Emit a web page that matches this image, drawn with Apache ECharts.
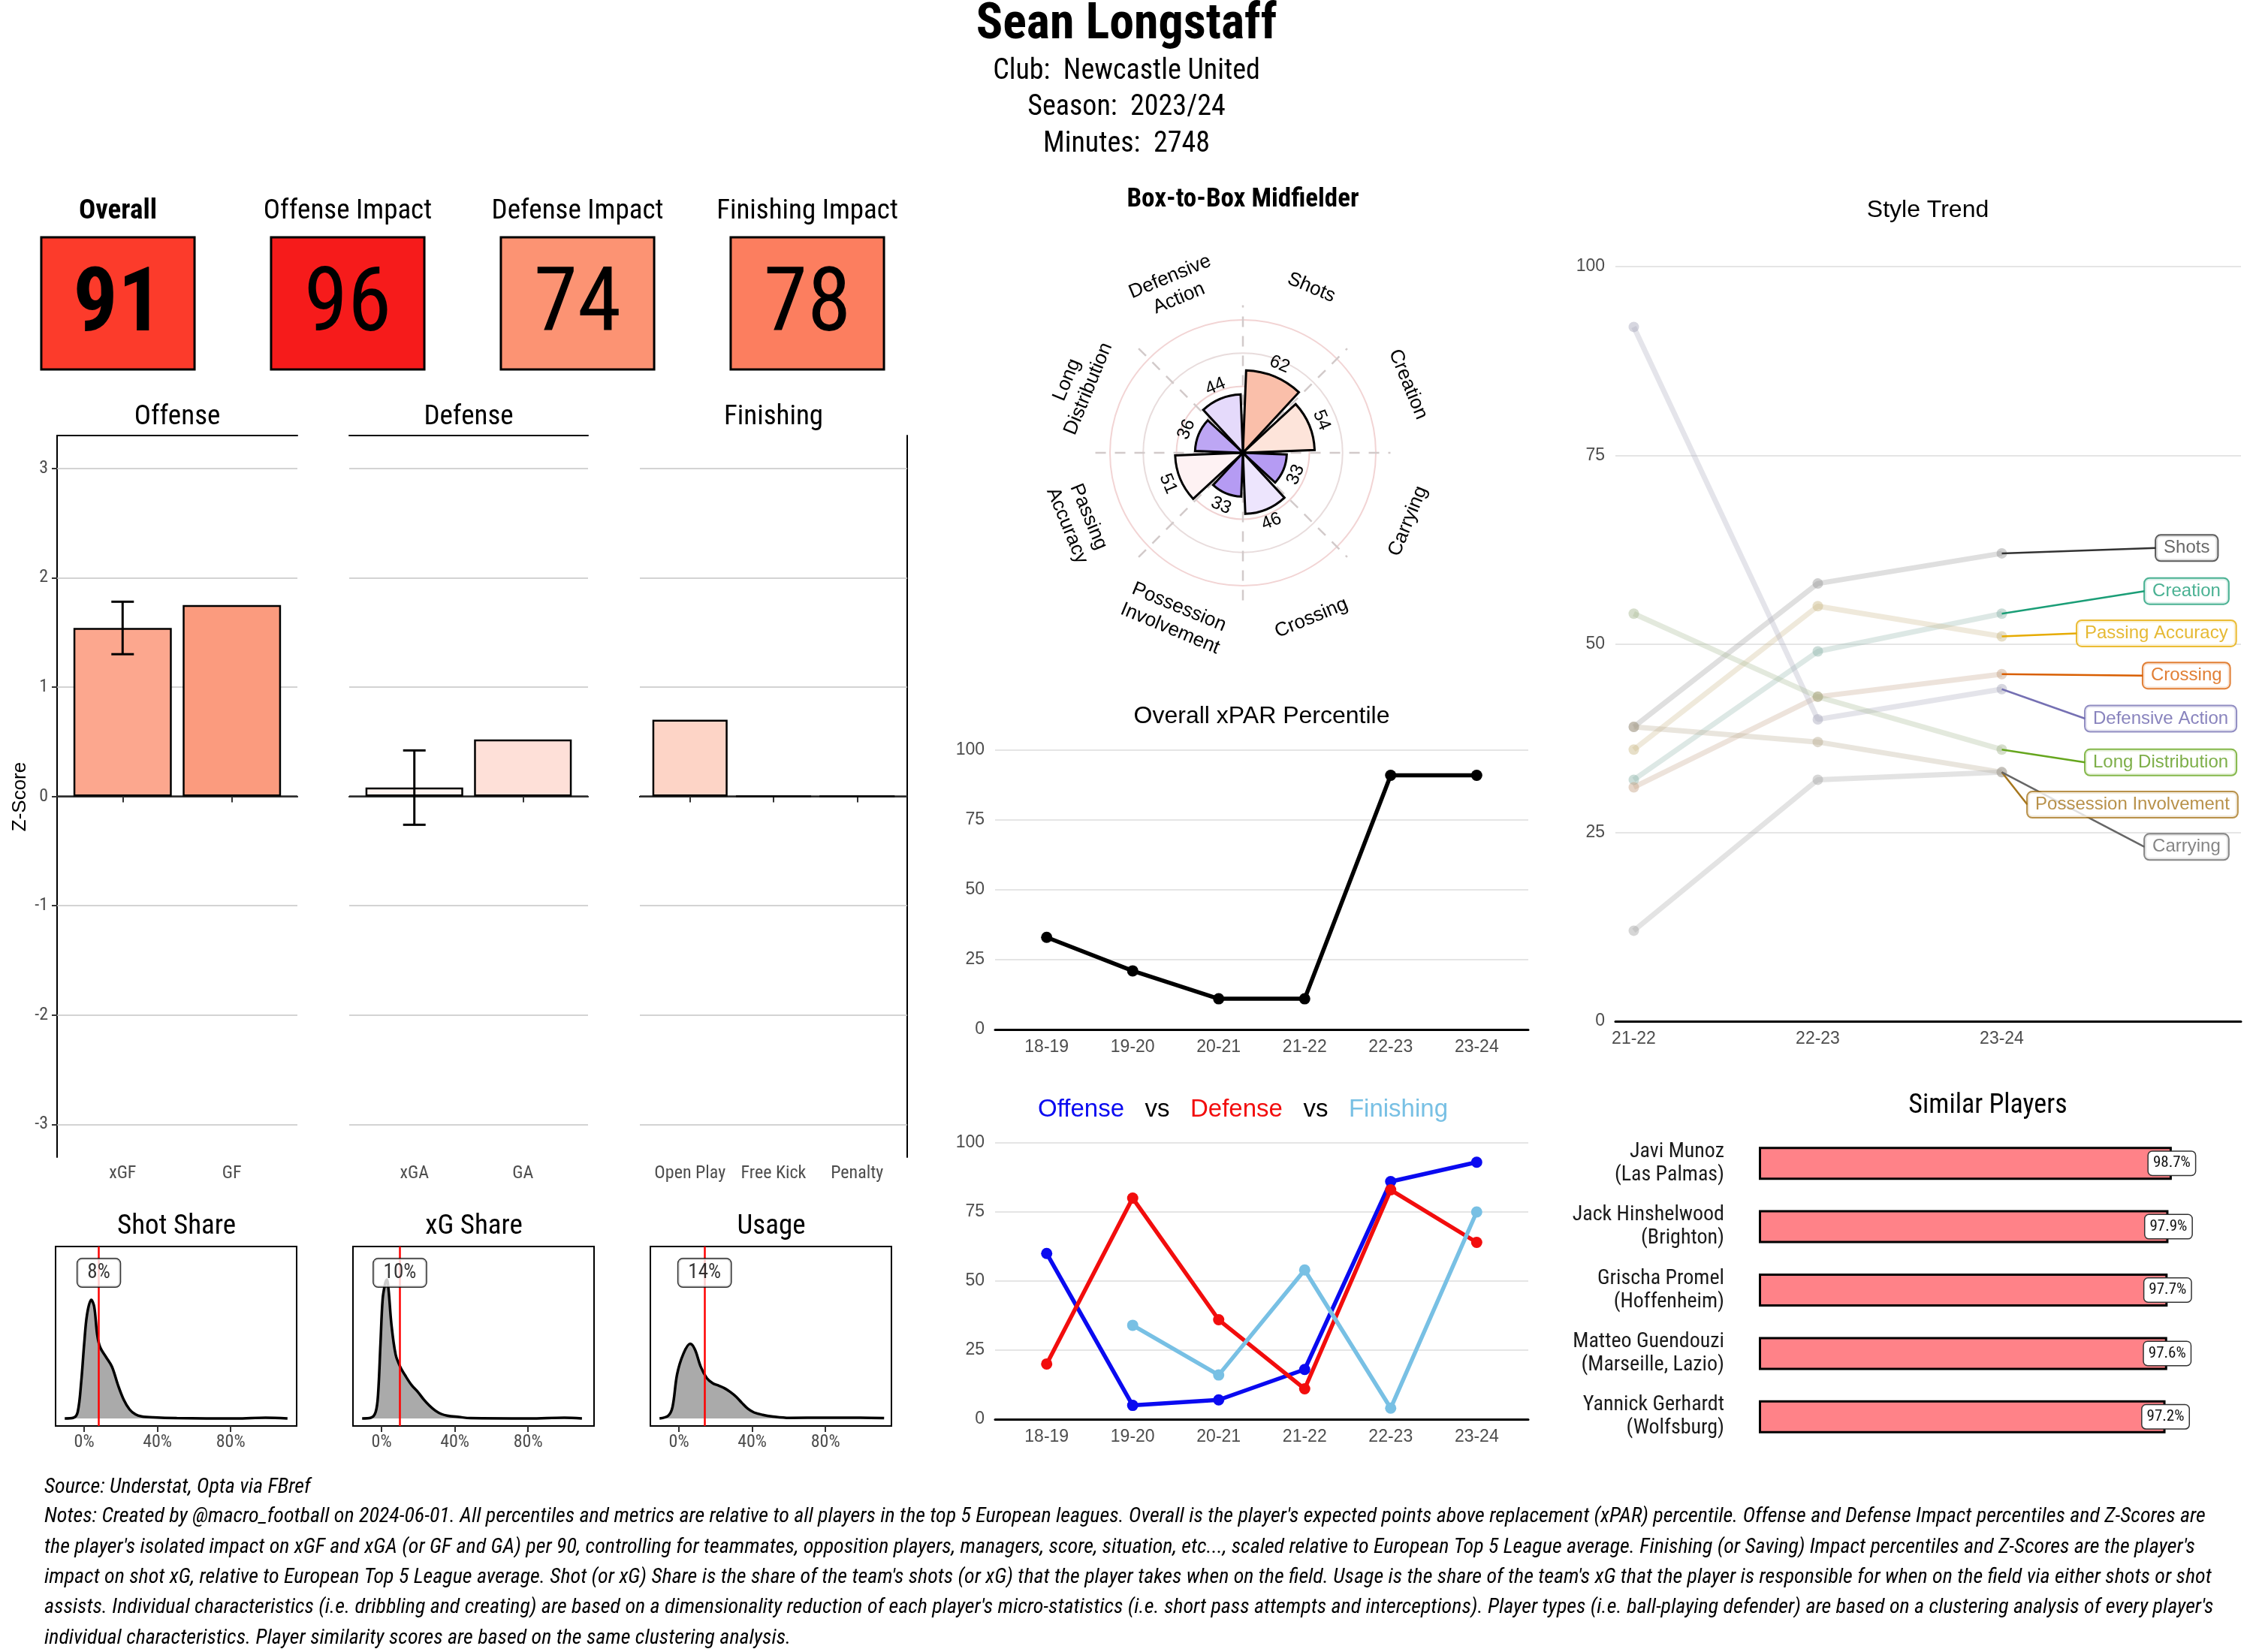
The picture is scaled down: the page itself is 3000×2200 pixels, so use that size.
<!DOCTYPE html>
<html><head><meta charset="utf-8">
<script src="https://cdn.jsdelivr.net/npm/echarts@6/dist/echarts.min.js"></script>
<style>html,body{margin:0;padding:0;background:#fff}#c{width:3000px;height:2200px}</style>
</head><body><div id="c"></div>
<script>
// ---------------- DATA ----------------
const playerName = 'Sean Longstaff';
const infoLines = ['Club:  Newcastle United', 'Season:  2023/24', 'Minutes:  2748'];

const tileNames = ['Overall', 'Offense Impact', 'Defense Impact', 'Finishing Impact'];
const tileValues = [91, 96, 74, 78];

const zTicks = [-3, -2, -1, 0, 1, 2, 3];
const offenseCats = ['xGF', 'GF'];
const offenseVals = [1.54, 1.75];
const defenseCats = ['xGA', 'GA'];
const defenseVals = [0.08, 0.52];
const finishingCats = ['Open Play', 'Free Kick', 'Penalty'];
const finishingVals = [0.70, 0, 0];
const xgfErr = [1.30, 1.78];
const xgaErr = [-0.26, 0.42];

const shareNames = ['Shot Share', 'xG Share', 'Usage'];
const shareValues = [8, 10, 14];
const shareTicks = [0, 40, 80];
const shotShareX = [-10.6, -5.8, -3.5, -1.6, 0, 1.6, 3.9, 5.5, 7.1, 8.7, 11.9, 15.2, 18.4, 21.6, 24.8, 28, 31.3, 37.7, 50.6, 83, 99, 111];
const shotShareD = [0, 0.05, 0.44, 2.44, 4.94, 6.94, 7.9, 7.44, 5.6, 4.75, 4.1, 3.44, 2.25, 1.25, 0.6, 0.27, 0.14, 0.07, 0.02, 0, 0.05, 0];
const xgShareX = [-10.6, -5.8, -3.2, -1.9, -0.6, 0.6, 1.9, 2.9, 3.8, 5.4, 7.7, 10.2, 13.4, 16.6, 19.8, 23, 26.2, 29.4, 32.6, 35.8, 42.2, 48.6, 80.6, 99.8, 109.4];
const xgShareD = [0, 0.05, 0.44, 1.6, 4.94, 7.94, 8.94, 9.25, 8.6, 6.25, 4.25, 3.44, 2.77, 2.19, 1.77, 1.27, 0.85, 0.52, 0.3, 0.19, 0.1, 0.02, 0, 0.05, 0];
const usageX = [-10.6, -5.8, -3.5, -1, 2.3, 6.1, 8.7, 11.9, 15.2, 18.4, 21.6, 24.8, 28, 31.3, 34.5, 37.7, 41, 45.8, 50.6, 60.3, 79.7, 99, 112];
const usageD = [0, 0.19, 0.77, 2.94, 4.27, 4.97, 4.6, 3.44, 2.69, 2.35, 2.19, 2.02, 1.77, 1.44, 1.02, 0.64, 0.4, 0.24, 0.14, 0.04, 0.05, 0.05, 0.02];

const playerType = 'Box-to-Box Midfielder';
const styleCats = ['Shots', 'Creation', 'Carrying', 'Crossing', 'Possession Involvement', 'Passing Accuracy', 'Long Distribution', 'Defensive Action'];
const styleValues = [62, 54, 33, 46, 33, 51, 36, 44];

const trendSeasons = ['21-22', '22-23', '23-24'];
const trendShots = [39, 58, 62];
const trendCreation = [32, 49, 54];
const trendPassing = [36, 55, 51];
const trendCrossing = [31, 43, 46];
const trendDefensive = [92, 40, 44];
const trendLongDist = [54, 43, 36];
const trendPossession = [39, 37, 33];
const trendCarrying = [12, 32, 33];

const seasons = ['18-19', '19-20', '20-21', '21-22', '22-23', '23-24'];
const xparVals = [33, 21, 11, 11, 91, 91];
const offenseTrend = [60, 5, 7, 18, 86, 93];
const defenseTrend = [20, 80, 36, 11, 83, 64];
const finishingTrend = [null, 34, 16, 54, 4, 75];

const simNames = ['Javi Munoz\n(Las Palmas)', 'Jack Hinshelwood\n(Brighton)', 'Grischa Promel\n(Hoffenheim)', 'Matteo Guendouzi\n(Marseille, Lazio)', 'Yannick Gerhardt\n(Wolfsburg)'];
const simVals = [98.7, 97.9, 97.7, 97.6, 97.2];

const sourceText = 'Source: Understat, Opta via FBref';
const notesLines = [
  "Notes: Created by @macro_football on 2024-06-01. All percentiles and metrics are relative to all players in the top 5 European leagues. Overall is the player's expected points above replacement (xPAR) percentile. Offense and Defense Impact percentiles and Z-Scores are",
  "the player's isolated impact on xGF and xGA (or GF and GA) per 90, controlling for teammates, opposition players, managers, score, situation, etc..., scaled relative to European Top 5 League average. Finishing (or Saving) Impact percentiles and Z-Scores are the player's",
  "impact on shot xG, relative to European Top 5 League average. Shot (or xG) Share is the share of the team's shots (or xG) that the player takes when on the field. Usage is the share of the team's xG that the player is responsible for when on the field via either shots or shot",
  "assists. Individual characteristics (i.e. dribbling and creating) are based on a dimensionality reduction of each player's micro-statistics (i.e. short pass attempts and interceptions). Player types (i.e. ball-playing defender) are based on a clustering analysis of every player's",
  "individual characteristics. Player similarity scores are based on the same clustering analysis."
];

// ---------------- STYLE ----------------
const COND = "'Liberation Sans Narrow','Roboto Condensed','DejaVu Sans Condensed',sans-serif";
const ARIAL = "'Liberation Sans',Arial,sans-serif";
const tileColors = ['#FC3B2B', '#F61B1B', '#FC9373', '#FC7E5F'];
const offenseColors = ['#FCA78E', '#FB9B7E'];
const defenseColors = ['#FFF4F0', '#FEE0D8'];
const finishingColors = ['#FDD4C6', '#FDD4C6', '#FDD4C6'];
const polarColors = ['#FABFAA', '#FDE4DA', '#B59BF3', '#EDE5FD', '#B59BF3', '#FEF2F3', '#BDA6F4', '#E5DAFB'];
const polarLabels = ['Shots', 'Creation', 'Carrying', 'Crossing', 'Possession\nInvolvement', 'Passing\nAccuracy', 'Long\nDistribution', 'Defensive\nAction'];
const trendNames = ['Shots', 'Creation', 'Passing Accuracy', 'Crossing', 'Defensive Action', 'Long Distribution', 'Possession Involvement', 'Carrying'];
const trendSeriesData = [trendShots, trendCreation, trendPassing, trendCrossing, trendDefensive, trendLongDist, trendPossession, trendCarrying];
const trendColors = ['#333333', '#1B9E77', '#E6AB02', '#D95F02', '#7570B3', '#66A61E', '#A6761D', '#666666'];
const trendTextColors = ['#444444', '#1B9E77', '#E0A800', '#D95F02', '#6A64AD', '#5C9A1A', '#A6761D', '#666666'];
// label anchor (left-middle of each repelled label box) in axis units
const trendLabelAnchor = [[2.837, 62.7], [2.776, 57.0], [2.408, 51.4], [2.767, 45.8], [2.453, 40.1], [2.453, 34.3], [2.139, 28.7], [2.776, 23.1]];
const OFF_C = '#0A0AF0', DEF_C = '#F20D0D', FIN_C = '#78C0E4';

function blend(hex, base, t) {
  const a = parseInt(hex.slice(1), 16), b = parseInt(base.slice(1), 16);
  const ch = (v, s) => (v >> s) & 255;
  const m = s => Math.round(ch(a, s) * t + ch(b, s) * (1 - t));
  return 'rgb(' + m(16) + ',' + m(8) + ',' + m(0) + ')';
}

// ---------------- BUILD ----------------
const grids = [
  {left: 4, top: 316, width: 1224, height: 176},          // 0 tiles
  {left: 76, top: 580, width: 320, height: 961},          // 1 offense
  {left: 465, top: 580, width: 318, height: 961},         // 2 defense
  {left: 852, top: 580, width: 356, height: 961},         // 3 finishing
  {left: 74, top: 1660, width: 321, height: 239, show: true, borderColor: '#000', borderWidth: 2},  // 4
  {left: 470, top: 1660, width: 321, height: 239, show: true, borderColor: '#000', borderWidth: 2}, // 5
  {left: 866, top: 1660, width: 321, height: 239, show: true, borderColor: '#000', borderWidth: 2}, // 6
  {left: 2151, top: 355, width: 833, height: 1005},       // 7 style trend
  {left: 1325, top: 999, width: 710, height: 372},        // 8 xPAR
  {left: 1325, top: 1522, width: 710, height: 368},       // 9 OvD
  {left: 2342, top: 1507, width: 585, height: 422}        // 10 similar
].map(g => Object.assign({outerBoundsMode: 'none', containLabel: false}, g));

const tickLabel = {fontFamily: COND, fontSize: 24, color: '#4d4d4d'};
const arialLabel = {fontFamily: ARIAL, fontSize: 23, color: '#4d4d4d'};

function barXAxis(gi, cats) {
  const vals = cats.map((c, i) => i + 1);
  return {gridIndex: gi, type: 'value', min: 0.4, max: cats.length + 0.6,
    axisLine: {show: true, lineStyle: {color: '#000', width: 2}},
    axisTick: {show: true, customValues: vals, length: 8, lineStyle: {color: '#333', width: 2}},
    axisLabel: Object.assign({show: true, customValues: vals, margin: 10, formatter: v => cats[Math.round(v) - 1]}, tickLabel),
    splitLine: {show: false}};
}
function topLineAxis(gi, n) {
  return {gridIndex: gi, type: 'value', position: 'top', min: 0.4, max: n + 0.6,
    axisLine: {show: true, lineStyle: {color: '#000', width: 2}}, axisTick: {show: false}, axisLabel: {show: false}, splitLine: {show: false}};
}
function barYAxis(gi, showLabels) {
  return {gridIndex: gi, type: 'value', min: -3.3, max: 3.3,
    axisLine: {show: showLabels, lineStyle: {color: '#000', width: 2}},
    axisTick: {show: showLabels, customValues: zTicks, length: 7, lineStyle: {color: '#333', width: 2}},
    axisLabel: Object.assign({show: showLabels, customValues: zTicks, margin: 12}, tickLabel),
    splitLine: {show: false}};
}
function densXAxis(gi) {
  return {gridIndex: gi, type: 'value', min: -15.6, max: 116,
    axisLine: {show: true, onZero: false, lineStyle: {color: '#000', width: 2}},
    axisTick: {show: true, customValues: shareTicks, length: 8, lineStyle: {color: '#333', width: 2}},
    axisLabel: Object.assign({show: true, customValues: shareTicks, margin: 10, formatter: v => v + '%'}, tickLabel),
    splitLine: {show: false}};
}
function densYAxis(gi) {
  return {gridIndex: gi, type: 'value', min: -0.5, max: 11.45, show: false};
}
function seasonXAxis(gi, labels, min, max) {
  const vals = labels.map((s, i) => i);
  return {gridIndex: gi, type: 'value', min: min, max: max,
    axisLine: {show: true, onZero: false, lineStyle: {color: '#000', width: 3}},
    axisTick: {show: false},
    axisLabel: Object.assign({show: true, customValues: vals, margin: 12, formatter: v => labels[Math.round(v)]}, arialLabel),
    splitLine: {show: false}};
}
function pctYAxis(gi) {
  return {gridIndex: gi, type: 'value', min: 0, max: 100, interval: 25,
    axisLine: {show: false}, axisTick: {show: false},
    axisLabel: Object.assign({show: true, margin: 14}, arialLabel),
    splitLine: {show: true, lineStyle: {color: '#dcdcdc', width: 1.5}}};
}

const xAxes = [
  {gridIndex: 0, type: 'category', data: tileNames, show: false},   // 0
  barXAxis(1, offenseCats),                                          // 1
  barXAxis(2, defenseCats),                                          // 2
  barXAxis(3, finishingCats),                                        // 3
  densXAxis(4), densXAxis(5), densXAxis(6),                          // 4,5,6
  seasonXAxis(7, trendSeasons, -0.1, 3.3),                           // 7
  seasonXAxis(8, seasons, -0.6, 5.6),                                // 8
  seasonXAxis(9, seasons, -0.6, 5.6),                                // 9
  {gridIndex: 10, type: 'value', min: 0, max: 105, show: false},     // 10
  topLineAxis(1, 2), topLineAxis(2, 2), topLineAxis(3, 3)            // 11,12,13
];
const yAxes = [
  {gridIndex: 0, type: 'value', min: 0, max: 1, show: false},        // 0
  barYAxis(1, true), barYAxis(2, false), barYAxis(3, false),         // 1,2,3
  densYAxis(4), densYAxis(5), densYAxis(6),                          // 4,5,6
  pctYAxis(7), pctYAxis(8), pctYAxis(9),                             // 7,8,9
  {gridIndex: 10, type: 'category', data: simNames, inverse: true,   // 10
    axisLine: {show: false}, axisTick: {show: false}, splitLine: {show: false},
    axisLabel: {fontFamily: COND, fontSize: 28, lineHeight: 31, color: '#1a1a1a', margin: 46, align: 'right'}},
  {gridIndex: 3, type: 'value', position: 'right', min: -3.3, max: 3.3,   // 11
    axisLine: {show: true, lineStyle: {color: '#000', width: 2}}, axisTick: {show: false}, axisLabel: {show: false}, splitLine: {show: false}}
];

const series = [];

// tiles
series.push({
  type: 'custom', xAxisIndex: 0, yAxisIndex: 0,
  data: tileValues.map((v, i) => [i, v]),
  renderItem: (params, api) => {
    const i = api.value(0), v = api.value(1);
    const p0 = api.coord([i, 0]), p1 = api.coord([i, 1]);
    const bw = api.size([1, 0])[0] * 0.667;
    return {type: 'group', children: [
      {type: 'rect', shape: {x: p0[0] - bw / 2, y: p1[1], width: bw, height: p0[1] - p1[1]},
        style: {fill: tileColors[i], stroke: '#000', lineWidth: 3}},
      {type: 'text', x: p0[0], y: (p0[1] + p1[1]) / 2 + 6,
        style: {text: String(v), fontFamily: COND, fontSize: 118, fontWeight: i === 0 ? 'bold' : 'normal', fill: '#000', align: 'center', verticalAlign: 'middle'}},
      {type: 'text', x: p0[0], y: p1[1] - 34,
        style: {text: tileNames[i], fontFamily: COND, fontSize: 37, fontWeight: i === 0 ? 'bold' : 'normal', fill: '#000', align: 'center', verticalAlign: 'middle'}}
    ]};
  }
});

// facet bars
function gridMarkLines() {
  return {silent: true, symbol: 'none', z: 1, label: {show: false}, animation: false,
    data: zTicks.map(v => ({yAxis: v, lineStyle: v === 0 ? {color: '#333', width: 2.5, type: 'solid'} : {color: '#c4c4c4', width: 1.5, type: 'solid'}}))};
}
function facetBars(gi, vals, colors, gridW, n) {
  return {type: 'bar', xAxisIndex: gi, yAxisIndex: gi, z: 3,
    barWidth: 0.9 * gridW / (n + 0.2),
    data: vals.map((v, i) => ({value: [i + 1, v], itemStyle: {color: colors[i]}})),
    itemStyle: {borderColor: '#000', borderWidth: 2.5},
    markLine: gridMarkLines()};
}
series.push(facetBars(1, offenseVals, offenseColors, 320, 2));
series.push(facetBars(2, defenseVals, defenseColors, 318, 2));
series.push(facetBars(3, finishingVals, finishingColors, 356, 3));
function errorBar(gi, x, err) {
  return {type: 'custom', xAxisIndex: gi, yAxisIndex: gi, z: 5,
    data: [[x, err[0], err[1]]],
    renderItem: (params, api) => {
      const lo = api.coord([api.value(0), api.value(1)]);
      const hi = api.coord([api.value(0), api.value(2)]);
      const hw = 15, st = {stroke: '#000', lineWidth: 3};
      return {type: 'group', children: [
        {type: 'line', shape: {x1: lo[0], y1: lo[1], x2: hi[0], y2: hi[1]}, style: st},
        {type: 'line', shape: {x1: lo[0] - hw, y1: lo[1], x2: lo[0] + hw, y2: lo[1]}, style: st},
        {type: 'line', shape: {x1: hi[0] - hw, y1: hi[1], x2: hi[0] + hw, y2: hi[1]}, style: st}
      ]};
    }};
}
series.push(errorBar(1, 1, xgfErr));
series.push(errorBar(2, 1, xgaErr));

// densities
const densX = [shotShareX, xgShareX, usageX];
const densD = [shotShareD, xgShareD, usageD];
for (let k = 0; k < 3; k++) {
  const gi = 4 + k;
  series.push({type: 'line', xAxisIndex: gi, yAxisIndex: gi, smooth: 0.35, symbol: 'none', z: 2,
    data: densX[k].map((x, i) => [x, densD[k][i]]),
    lineStyle: {color: '#000', width: 3.5},
    areaStyle: {color: '#AAAAAA', opacity: 1},
    markLine: {silent: true, symbol: 'none', label: {show: false}, z: 3,
      lineStyle: {color: '#FF0000', width: 2.5, type: 'solid'}, data: [{xAxis: shareValues[k]}]}});
  series.push({type: 'scatter', xAxisIndex: gi, yAxisIndex: gi, z: 6, symbolSize: 1,
    itemStyle: {color: 'rgba(0,0,0,0)'},
    data: [[shareValues[k], 9.7]],
    label: {show: true, position: 'inside', formatter: shareValues[k] + '%', fontFamily: COND, fontSize: 27, color: '#000',
      backgroundColor: '#fff', borderColor: '#000', borderWidth: 1.5, borderRadius: 6, padding: [6, 13, 4, 13]}});
}

// style trend
for (let k = 0; k < trendNames.length; k++) {
  const c = trendColors[k];
  series.push({type: 'line', xAxisIndex: 7, yAxisIndex: 7, z: 2, symbol: 'circle', symbolSize: 14,
    data: trendSeriesData[k].map((v, i) => [i, v]),
    lineStyle: {color: blend(c, '#c8c8c8', 0.25), width: 7, opacity: 0.35},
    itemStyle: {color: blend(c, '#bdbdbd', 0.3), opacity: 0.45}});
}
for (let k = 0; k < trendNames.length; k++) {
  const c = trendColors[k];
  const last = trendSeriesData[k][trendSeriesData[k].length - 1];
  series.push({type: 'line', xAxisIndex: 7, yAxisIndex: 7, z: 3, symbol: 'none',
    data: [[trendSeriesData[k].length - 1, last], trendLabelAnchor[k]],
    lineStyle: {color: c, width: 2.5}});
}
series.push({type: 'scatter', xAxisIndex: 7, yAxisIndex: 7, z: 6, symbolSize: 1, itemStyle: {color: 'rgba(0,0,0,0)'},
  data: trendNames.map((n, k) => ({value: trendLabelAnchor[k], name: n,
    label: {show: true, position: 'right', distance: 0, formatter: n, fontFamily: ARIAL, fontSize: 24, color: trendTextColors[k],
      backgroundColor: '#fff', borderColor: trendColors[k], borderWidth: 2, borderRadius: 6, padding: [5, 10, 4, 10]}}))});

// xPAR
series.push({type: 'line', xAxisIndex: 8, yAxisIndex: 8, z: 3, symbol: 'circle', symbolSize: 15,
  data: xparVals.map((v, i) => [i, v]), lineStyle: {color: '#000', width: 5.5}, itemStyle: {color: '#000'}});
// OvD
function trendLine(vals, color) {
  return {type: 'line', xAxisIndex: 9, yAxisIndex: 9, z: 3, symbol: 'circle', symbolSize: 15,
    data: vals.map((v, i) => (v === null ? null : [i, v])).filter(d => d !== null),
    lineStyle: {color: color, width: 5.5}, itemStyle: {color: color}};
}
series.push(trendLine(offenseTrend, OFF_C));
series.push(trendLine(defenseTrend, DEF_C));
series.push(trendLine(finishingTrend, FIN_C));

// similar players
series.push({type: 'bar', xAxisIndex: 10, yAxisIndex: 10, barWidth: 44, z: 3,
  data: simVals,
  itemStyle: {color: '#FF8288', borderColor: '#000', borderWidth: 3},
  label: {show: true, position: ['100%', '50%'], align: 'center', verticalAlign: 'middle', formatter: '{c}%',
    fontFamily: COND, fontSize: 21, color: '#111', backgroundColor: '#fff', borderColor: '#333', borderWidth: 1.5, borderRadius: 5, padding: [6, 6, 4, 6]}});

// polar
series.push({type: 'custom', coordinateSystem: 'polar', z: 1, data: [[0, 0]],
  renderItem: (params, api) => {
    const c = api.coord([0, 0]);
    const e = api.coord([111, 0]);
    const R = Math.hypot(e[0] - c[0], e[1] - c[1]);
    const children = [];
    for (let k = 0; k < 4; k++) {
      const a = k * Math.PI / 4;
      const dx = R * Math.sin(a), dy = -R * Math.cos(a);
      children.push({type: 'line', shape: {x1: c[0] - dx, y1: c[1] - dy, x2: c[0] + dx, y2: c[1] + dy},
        style: {stroke: '#d2caca', lineWidth: 2.5, lineDash: [14, 12]}});
    }
    return {type: 'group', children: children};
  }});
series.push({type: 'bar', coordinateSystem: 'polar', z: 3, barCategoryGap: '10%',
  data: styleValues.map((v, i) => ({value: v, itemStyle: {color: polarColors[i]}})),
  itemStyle: {borderColor: '#000', borderWidth: 3}});
function tangentRot(i) {
  const th = (i + 0.5) * 360 / styleCats.length;
  const r = th <= 90 ? th : (th < 270 ? th - 180 : th - 360);
  return -r * Math.PI / 180;
}
series.push({type: 'custom', coordinateSystem: 'polar', z: 5,
  data: styleValues.map((v, i) => [v + 10, i, v]),
  renderItem: (params, api) => {
    const i = api.value(1);
    const p = api.coord([api.value(0), i]);
    return {type: 'text', x: p[0], y: p[1], rotation: tangentRot(i),
      style: {text: String(api.value(2)), fontFamily: ARIAL, fontSize: 24, fill: '#000', align: 'center', verticalAlign: 'middle'}};
  }});
series.push({type: 'custom', coordinateSystem: 'polar', z: 5,
  data: styleCats.map((c, i) => [134.5, i]),
  renderItem: (params, api) => {
    const i = api.value(1);
    const p = api.coord([api.value(0), i]);
    return {type: 'text', x: p[0], y: p[1], rotation: tangentRot(i),
      style: {text: polarLabels[i], fontFamily: ARIAL, fontSize: 26, lineHeight: 31, fill: '#000', align: 'center', verticalAlign: 'middle'}};
  }});

// ---------------- TEXT ----------------
function txt(text, x, y, size, opts) {
  return {type: 'text', x: x, y: y, z: 10, silent: true, rotation: (opts && opts.rotation) || 0,
    style: Object.assign({text: text, fontFamily: COND, fontSize: size, fill: '#000',
      align: 'center', verticalAlign: 'middle', textAlign: 'center', textVerticalAlign: 'middle'}, (opts && opts.style) || {})};
}
const graphics = [
  txt(playerName, 1500, 34, 66, {style: {fontWeight: 'bold'}}),
  txt(infoLines[0], 1500, 95, 38),
  txt(infoLines[1], 1500, 143, 38),
  txt(infoLines[2], 1500, 192, 38),
  txt('Offense', 236, 556, 37), txt('Defense', 624, 556, 37), txt('Finishing', 1030, 556, 37),
  txt('Z-Score', 27, 1061, 26, {rotation: Math.PI / 2, style: {fontFamily: ARIAL}}),
  txt(shareNames[0], 235, 1634, 37), txt(shareNames[1], 631, 1634, 37), txt(shareNames[2], 1027, 1634, 37),
  txt(playerType, 1655, 266, 35, {style: {fontWeight: 'bold'}}),
  txt('Style Trend', 2567, 280, 32, {style: {fontFamily: ARIAL}}),
  txt('Overall xPAR Percentile', 1680, 954, 32, {style: {fontFamily: ARIAL}}),
  txt('{o|Offense}   {k|vs}   {d|Defense}   {k|vs}   {f|Finishing}', 1655, 1478, 33, {style: {fontFamily: ARIAL,
    rich: {o: {fill: OFF_C, fontFamily: ARIAL, fontSize: 33}, k: {fill: '#000', fontFamily: ARIAL, fontSize: 33},
      d: {fill: DEF_C, fontFamily: ARIAL, fontSize: 33}, f: {fill: FIN_C, fontFamily: ARIAL, fontSize: 33}}}}),
  txt('Similar Players', 2647, 1473, 36),
  txt(sourceText, 59, 1981, 28, {style: {align: 'left', textAlign: 'left', fontStyle: 'italic'}}),
  txt(notesLines.join('\n'), 59, 2101, 28, {style: {align: 'left', textAlign: 'left', fontStyle: 'italic', lineHeight: 40.3}})
];

const option = {
  animation: false,
  backgroundColor: '#fff',
  textStyle: {fontFamily: ARIAL},
  grid: grids, xAxis: xAxes, yAxis: yAxes,
  polar: {center: [1655, 603], radius: 177},
  angleAxis: {type: 'category', data: styleCats, startAngle: 90, clockwise: true, boundaryGap: true,
    axisLine: {show: false}, axisTick: {show: false}, axisLabel: {show: false}, splitLine: {show: false}},
  radiusAxis: {type: 'value', min: 0, max: 100, interval: 25,
    axisLine: {show: false}, axisTick: {show: false}, axisLabel: {show: false},
    splitLine: {show: true, lineStyle: {color: ['#f3dada', '#f2d6d6', '#f0d2d2', '#e8dcdc', '#f2d4d4'], width: 2}}},
  series: series,
  graphic: graphics
};
const chart = echarts.init(document.getElementById('c'), null, {width: 3000, height: 2200});
chart.setOption(option);
</script></body></html>
